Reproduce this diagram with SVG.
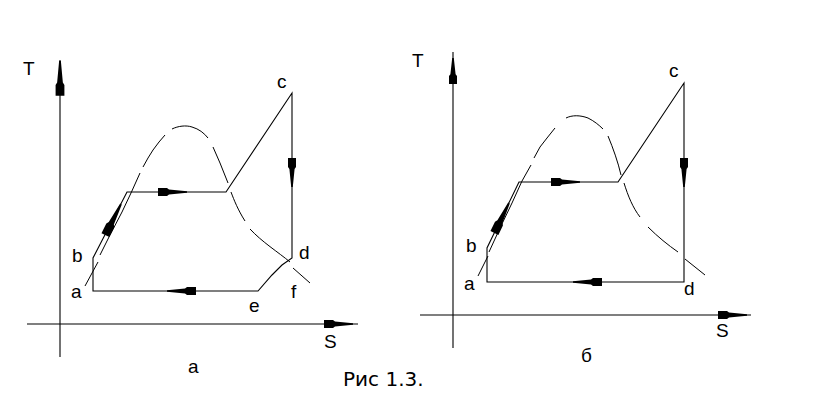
<svg xmlns="http://www.w3.org/2000/svg" xmlns:xlink="http://www.w3.org/1999/xlink" width="832" height="406" viewBox="0 0 832 406">
<style>
.ln{fill:none;stroke:#000;stroke-width:1.1;stroke-linejoin:miter}
.dm{fill:none;stroke:#000;stroke-width:1}
.lb{font-family:"Liberation Sans","DejaVu Sans",sans-serif;font-size:19px;fill:#000}
.cap{font-family:"DejaVu Sans","Liberation Sans",sans-serif;font-size:20px;fill:#000}
</style>
<defs>
<path id="ah" d="M0,-0.8 L-18,-2.6 L-20,-4 L-29,-4 L-29,4 L-20,4 L-18,2.6 L0,0.8 Z" fill="#000"/>
</defs>
<rect width="832" height="406" fill="#fff"/>

<!-- Diagram a -->
<g id="diagram-a">
  <g id="axes-a">
    <path class="ln" d="M60,60 V357 M27,324 H358"/>
    <use href="#ah" transform="translate(60,61) rotate(-90) scale(1.2,1.1)"/>
    <use href="#ah" transform="translate(353,324)"/>
  </g>
  <g id="dome-a">
    <path class="dm" d="M85,286 L98,262 M100,255 L110,235 L122,212 L131,193 L140,173 M143,167 L148,158 L153,150 L159,142 L165,135 M172,129 C178,126 186,125 192,127 C199,129 204,133 208,138 M213,147 L220,163 L228,183 M231,192 C234,200 238,210 245,221 M250,229 C262,242 278,252 290,262 M293,268 L310,283"/>
  </g>
  <g id="cycle-a">
    <path class="ln" d="M93,291 V258 L127,192 H226 L292,93 V258 L282,265 L272,275 L258,291 Z"/>
    <use href="#ah" transform="translate(121,204) rotate(-63.4) scale(1.2,1.1)"/>
    <use href="#ah" transform="translate(187,192)"/>
    <use href="#ah" transform="translate(292,187) rotate(90)"/>
    <use href="#ah" transform="translate(167,291) rotate(180)"/>
  </g>
  <g id="labels-a">
    <text class="lb" x="23" y="75">T</text>
    <text class="lb" x="277" y="88">c</text>
    <text class="lb" x="299" y="259">d</text>
    <text class="lb" x="72" y="262">b</text>
    <text class="lb" x="71" y="298">a</text>
    <text class="lb" x="249" y="312">e</text>
    <text class="lb" x="291" y="298">f</text>
    <text class="lb" x="324" y="348">S</text>
    <text class="lb" x="188" y="373">а</text>
  </g>
</g>

<!-- Diagram b -->
<g id="diagram-b">
  <g id="axes-b">
    <path class="ln" d="M453,52 V348 M420,315 H751"/>
    <use href="#ah" transform="translate(453,58) rotate(-90) scale(0.9,1)"/>
    <use href="#ah" transform="translate(747,315)"/>
  </g>
  <g id="dome-b">
    <path class="dm" d="M478,276 L488,256 M489,252 L500,228 L512,203 L522,181 L531,165 M534,158 L540,147 L547,138 L555,128 M566,118 C572,115 580,115 588,118 C594,121 599,125 603,129 M608,136 C613,148 618,162 621,175 M624,183 C628,196 633,208 640,217 M648,227 C658,237 668,245 678,252 M685,259 L705,275"/>
  </g>
  <g id="cycle-b">
    <path class="ln" d="M487,282 V248 L519,182 H618 L684,83 V282 Z"/>
    <use href="#ah" transform="translate(509,203) rotate(-64.1) scale(1.15,1.1)"/>
    <use href="#ah" transform="translate(580,182)"/>
    <use href="#ah" transform="translate(684,187) rotate(90)"/>
    <use href="#ah" transform="translate(573,282) rotate(180)"/>
  </g>
  <g id="labels-b">
    <text class="lb" x="412" y="67">T</text>
    <text class="lb" x="669" y="77">c</text>
    <text class="lb" x="466" y="252">b</text>
    <text class="lb" x="464" y="290">a</text>
    <text class="lb" x="684" y="295">d</text>
    <text class="lb" x="716" y="337">S</text>
    <text class="lb" x="581" y="362">б</text>
  </g>
</g>

<text id="caption" class="cap" x="343" y="386">Рис 1.3.</text>
</svg>
